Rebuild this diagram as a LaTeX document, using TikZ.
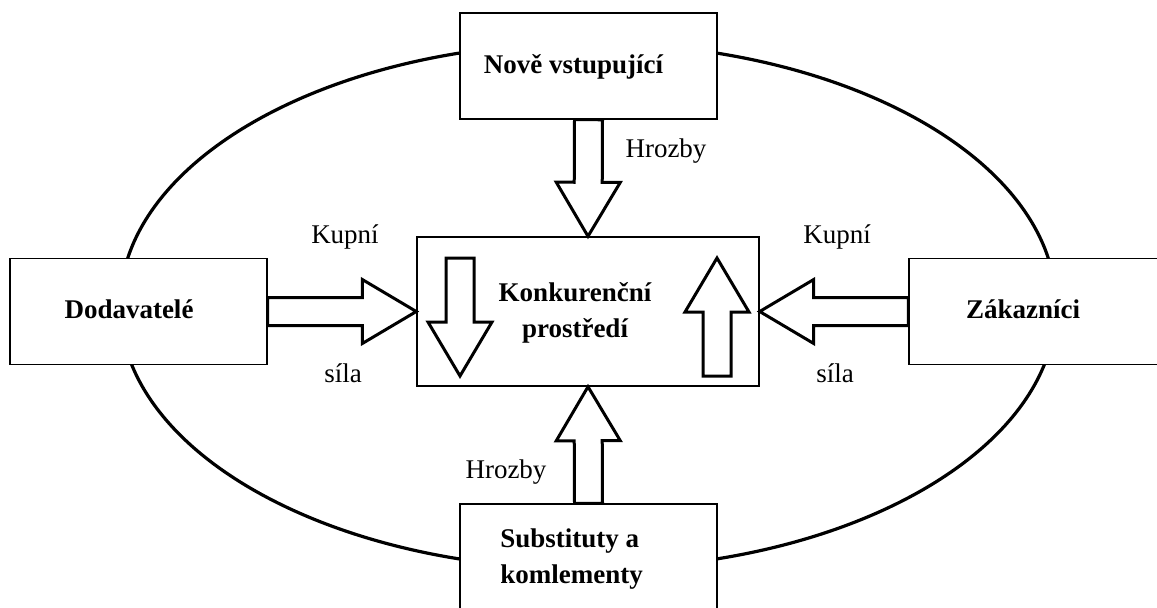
\documentclass[tikz,border=0pt]{standalone}
\usepackage{fontspec}
\setmainfont{Liberation Serif}
\usetikzlibrary{calc}

% outline arrow from tail #1 to tip #2
\newcommand{\blockarrow}[2]{%
  \coordinate (neck) at ($(#2)!27pt!(#1)$);
  \draw[barrow] ($(#1)!7pt!90:(#2)$) -- ($(neck)!7pt!90:(#2)$) -- ($(neck)!16pt!90:(#2)$) -- (#2)
    -- ($(neck)!16pt!-90:(#2)$) -- ($(neck)!7pt!-90:(#2)$) -- ($(#1)!7pt!-90:(#2)$) -- cycle;}

\begin{document}
\begin{tikzpicture}[x=0.5pt,y=-0.5pt,
  box/.style={draw,fill=white,line width=0.7pt,inner sep=0pt,minimum width=128.5pt,minimum height=53pt},
  title/.style={font=\fontsize{13.5}{18}\selectfont\bfseries,inner sep=0pt,align=center},
  lbl/.style={font=\fontsize{13.5}{16}\selectfont,inner sep=0pt,anchor=base},
  barrow/.style={draw,fill=white,line width=1.5pt,line join=miter},
  ring/.style={line width=1.6pt}]
\useasboundingbox (0,0) rectangle (1157,607);
\clip (0,0) rectangle (1157,607);

\draw[ring] (588,306) ellipse [x radius=234pt, y radius=131.5pt];

\node[box] (nov) at (588.5,66) {};
\node[box] (dod) at (138.5,311.5) {};
\node[box] (zak) at (1037.5,311.5) {};
\node[box] (sub) at (588.5,557) {};
\node[box,minimum width=171pt,minimum height=74.5pt] (kon) at (588,311.5) {};

\node[title,anchor=base] (novt) at (573.5,73) {Nově vstupující};
\node[title,anchor=base] (dodt) at (129,318) {Dodavatelé};
\node[title,anchor=base] (zakt) at (1023,318) {Zákazníci};
\node[title] (kont) at (575,313) {Konkurenční\\prostředí};
\node[title,align=left,anchor=west] (subt) at (500,559) {Substituty a\\komlementy};

\blockarrow{nov.south}{kon.north}
\blockarrow{sub.north}{kon.south}
\blockarrow{dod.east}{kon.west}
\blockarrow{zak.west}{kon.east}

\coordinate (d1) at (460,258);
\coordinate (d2) at (460,376);
\coordinate (u1) at (717,376);
\coordinate (u2) at (717,258);
\blockarrow{d1}{d2}
\blockarrow{u1}{u2}

\node[lbl] (hr1) at (666,157) {Hrozby};
\node[lbl] (hr2) at (506,478) {Hrozby};
\node[lbl] (kp1) at (345,243) {Kupní};
\node[lbl] (sl1) at (343,382) {síla};
\node[lbl] (kp2) at (837,243) {Kupní};
\node[lbl] (sl2) at (835,382) {síla};
\end{tikzpicture}
\end{document}
